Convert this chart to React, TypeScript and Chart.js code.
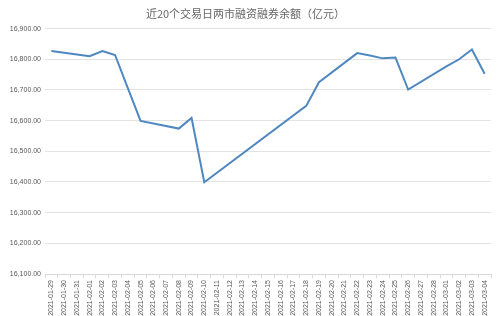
import React, { useEffect, useRef } from "react";
import { Chart, registerables } from "chart.js";

Chart.register(...registerables);

const title = "近20个交易日两市融资融券余额（亿元）";

const categories = [
  "2021-01-29", "2021-01-30", "2021-01-31", "2021-02-01", "2021-02-02",
  "2021-02-03", "2021-02-04", "2021-02-05", "2021-02-06", "2021-02-07",
  "2021-02-08", "2021-02-09", "2021-02-10", "2021-02-11", "2021-02-12",
  "2021-02-13", "2021-02-14", "2021-02-15", "2021-02-16", "2021-02-17",
  "2021-02-18", "2021-02-19", "2021-02-20", "2021-02-21", "2021-02-22",
  "2021-02-23", "2021-02-24", "2021-02-25", "2021-02-26", "2021-02-27",
  "2021-02-28", "2021-03-01", "2021-03-02", "2021-03-03", "2021-03-04",
];

const tradeDates = [
  "2021-01-29", "2021-02-01", "2021-02-02", "2021-02-03", "2021-02-04",
  "2021-02-05", "2021-02-08", "2021-02-09", "2021-02-10", "2021-02-18",
  "2021-02-19", "2021-02-22", "2021-02-23", "2021-02-24", "2021-02-25",
  "2021-02-26", "2021-03-01", "2021-03-02", "2021-03-03", "2021-03-04",
];

const balances = [
  16827, 16810, 16827, 16814, 16706,
  16599, 16574, 16609, 16399, 16648,
  16725, 16820, 16812, 16803, 16806,
  16701, 16777, 16800, 16832, 16753,
];

const yTicks = [16100, 16200, 16300, 16400, 16500, 16600, 16700, 16800, 16900];

export default function App() {
  const ref = useRef<HTMLCanvasElement | null>(null);

  useEffect(() => {
    if (!ref.current) return;
    const data = categories.map((d) => {
      const i = tradeDates.indexOf(d);
      return i >= 0 ? balances[i] : null;
    });
    const chart = new Chart(ref.current, {
      type: "line",
      data: {
        labels: categories,
        datasets: [
          {
            data,
            borderColor: "#4F87C0",
            borderWidth: 2,
            pointRadius: 0,
            tension: 0,
            spanGaps: true,
            fill: false,
          },
        ],
      },
      options: {
        animation: false,
        responsive: false,
        maintainAspectRatio: false,
        layout: { padding: { left: 0, right: 8, top: 0, bottom: 0 } },
        plugins: {
          legend: { display: false },
          tooltip: { enabled: false },
          title: {
            display: true,
            text: title,
            color: "#666666",
            font: { family: "'Noto Sans CJK SC'", size: 11, weight: "normal" },
            padding: { top: 7, bottom: 8.4 },
          },
        },
        scales: {
          x: {
            type: "category",
            offset: true,
            grid: {
              display: true,
              offset: true,
              drawOnChartArea: false,
              drawTicks: true,
              tickLength: 4,
              color: "#d9d9d9",
            },
            border: { display: true, color: "#d9d9d9" },
            ticks: {
              autoSkip: false,
              minRotation: 90,
              maxRotation: 90,
              color: "#595959",
              padding: 2,
              font: { family: "'Liberation Sans'", size: 7 },
            },
            afterFit: (s: any) => {
              s.height = 42;
            },
          },
          y: {
            min: 16100,
            max: 16900,
            afterBuildTicks: (s: any) => {
              s.ticks = yTicks.map((v) => ({ value: v }));
            },
            grid: { color: "#e3e3e3", drawTicks: false },
            border: { display: false },
            ticks: {
              color: "#595959",
              padding: 4,
              font: { family: "'Liberation Sans'", size: 7 },
              callback: (v: any) =>
                Number(v).toLocaleString("en-US", {
                  minimumFractionDigits: 2,
                  maximumFractionDigits: 2,
                }),
            },
            afterFit: (s: any) => {
              s.width = 45;
            },
          },
        },
      },
    });
    return () => chart.destroy();
  }, []);

  return (
    <div style={{ position: "fixed", left: 0, top: 0, width: 499, height: 316, background: "#fff" }}>
      <canvas ref={ref} width={499} height={316} />
    </div>
  );
}
